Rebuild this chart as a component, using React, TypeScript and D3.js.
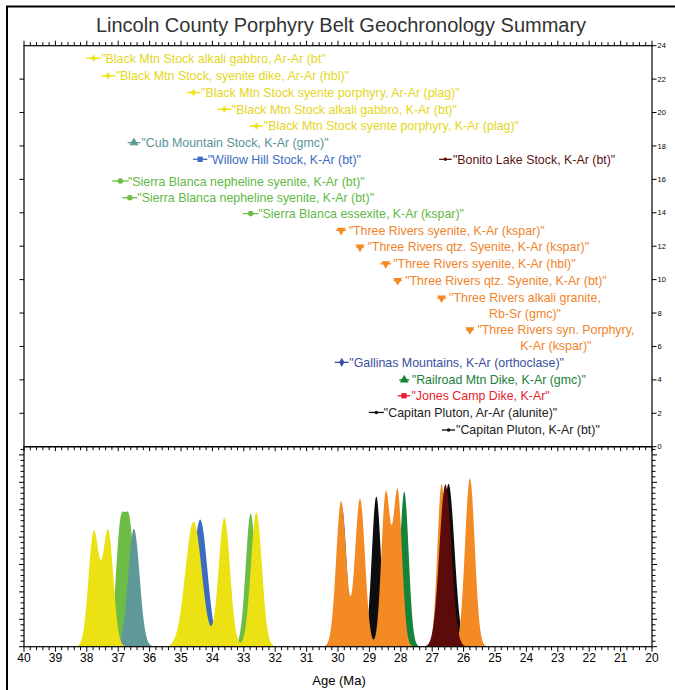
import React from "react";
import * as d3 from "d3";

const chartTitle = "Lincoln County Porphyry Belt Geochronology Summary";
const xAxisTitle = "Age (Ma)";

const groupNames = [
  "Black Mtn Stock",
  "Cub Mountain Stock",
  "Willow Hill Stock",
  "Bonito Lake Stock",
  "Sierra Blanca",
  "Three Rivers",
  "Gallinas Mountains",
  "Railroad Mtn Dike",
  "Jones Camp Dike",
  "Capitan Pluton",
];
const groupFill = ["#ece213", "#5f9898", "#3c6cc1", "#5c0b0b", "#6cbc45", "#f38a24", "#3551a1", "#138439", "#e91b2b", "#0d0d0d"];
const groupText = ["#e4d61c", "#5b9298", "#3b6bbf", "#5a1414", "#62b844", "#f0842c", "#3a4f9e", "#1a7f3a", "#e51e2c", "#222222"];
const groupMarker = ["cross", "triangleUp", "square", "dot", "circle", "triangleDown", "diamond", "triangleUp", "square", "dot"];

const sampleLabels = [
  "\"Black Mtn Stock alkali gabbro, Ar-Ar (bt\"",
  "\"Black Mtn Stock, syenite dike, Ar-Ar (hbl)\"",
  "\"Black Mtn Stock syente porphyry, Ar-Ar (plag)\"",
  "\"Black Mtn Stock alkali gabbro, K-Ar (bt)\"",
  "\"Black Mtn Stock syente porphyry, K-Ar (plag)\"",
  "\"Cub Mountain Stock, K-Ar (gmc)\"",
  "\"Willow Hill Stock, K-Ar (bt)\"",
  "\"Bonito Lake Stock, K-Ar (bt)\"",
  "\"Sierra Blanca nepheline syenite, K-Ar (bt)\"",
  "\"Sierra Blanca nepheline syenite, K-Ar (bt)\"",
  "\"Sierra Blanca essexite, K-Ar (kspar)\"",
  "\"Three Rivers syenite, K-Ar (kspar)\"",
  "\"Three Rivers qtz. Syenite, K-Ar (kspar)\"",
  "\"Three Rivers syenite, K-Ar (hbl)\"",
  "\"Three Rivers qtz. Syenite, K-Ar (bt)\"",
  "\"Three Rivers alkali granite,\nRb-Sr (gmc)\"",
  "\"Three Rivers syn. Porphyry,\nK-Ar (kspar)\"",
  "\"Gallinas Mountains, K-Ar (orthoclase)\"",
  "\"Railroad Mtn Dike, K-Ar (gmc)\"",
  "\"Jones Camp Dike, K-Ar\"",
  "\"Capitan Pluton, Ar-Ar (alunite)\"",
  "\"Capitan Pluton, K-Ar (bt)\"",
];
const sampleGroups = [0, 0, 0, 0, 0, 1, 2, 3, 4, 4, 4, 5, 5, 5, 5, 5, 5, 6, 7, 8, 9, 9];
const sampleAges = [37.78, 37.32, 34.6, 33.62, 32.6, 36.5, 34.39, 26.58, 36.93, 36.63, 32.78, 29.9, 29.3, 28.48, 28.1, 26.7, 25.8, 29.88, 27.89, 27.9, 28.78, 26.48];
const sampleErrors = [0.24, 0.23, 0.22, 0.23, 0.22, 0.2, 0.23, 0.2, 0.26, 0.24, 0.25, 0.16, 0.13, 0.17, 0.13, 0.15, 0.13, 0.22, 0.16, 0.2, 0.24, 0.21];
const sampleRows = [23.25, 22.2, 21.2, 20.2, 19.2, 18.2, 17.2, 17.2, 15.9, 14.9, 13.95, 12.95, 11.95, 10.95, 9.95, 8.9, 7.0, 5.05, 4.0, 3.05, 2.05, 1.0];
const sampleSigmas = [0.165, 0.165, 0.26, 0.18, 0.175, 0.18, 0.23, 0.19, 0.145, 0.145, 0.16, 0.16, 0.16, 0.14, 0.14, 0.135, 0.155, 0.155, 0.14, 0.12, 0.145, 0.19];
const samplePeaks = [0.208, 0.21, 0.228, 0.235, 0.245, 0.215, 0.232, 0.296, 0.21, 0.21, 0.243, 0.265, 0.27, 0.277, 0.281, 0.297, 0.307, 0.255, 0.283, 0.2, 0.274, 0.297];

const xTickLabels = [40, 39, 38, 37, 36, 35, 34, 33, 32, 31, 30, 29, 28, 27, 26, 25, 24, 23, 22, 21, 20];
const rowTickLabels = [0, 2, 4, 6, 8, 10, 12, 14, 16, 18, 20, 22, 24];

const LABEL_FONT = "12.4px 'Liberation Sans', Arial, sans-serif";

function measure(text: string): number {
  const c = document.createElement("canvas").getContext("2d");
  if (!c) return text.length * 6;
  c.font = LABEL_FONT;
  return c.measureText(text).width;
}

function markerPath(kind: string): { d: string; rot: number } {
  const s = d3.symbol();
  switch (kind) {
    case "cross": return { d: s.type(d3.symbolCross).size(20)() as string, rot: 0 };
    case "diamond": return { d: s.type(d3.symbolDiamond).size(24)() as string, rot: 0 };
    case "triangleUp": return { d: s.type(d3.symbolTriangle).size(34)() as string, rot: 0 };
    case "triangleDown": return { d: s.type(d3.symbolTriangle).size(34)() as string, rot: 180 };
    case "square": return { d: s.type(d3.symbolSquare).size(28)() as string, rot: 0 };
    case "circle": return { d: s.type(d3.symbolCircle).size(24)() as string, rot: 0 };
    default: return { d: s.type(d3.symbolCircle).size(9)() as string, rot: 0 };
  }
}

export default function App() {
  const W = 675, H = 690;
  const left = 24, right = 652;
  const topY = 45.7, midY = 446.7, botY = 646.7;
  const x = d3.scaleLinear().domain([40, 20]).range([left, right]);
  const yTop = d3.scaleLinear().domain([0, 24]).range([midY, topY]);
  const yBot = d3.scaleLinear().domain([0, 0.365]).range([botY, midY]);

  const grid = d3.range(0, 4001).map((i) => 40 - i * 0.005);
  const area = d3
    .area<[number, number]>()
    .x((d) => x(d[0]))
    .y0(yBot(0))
    .y1((d) => yBot(Math.min(d[1], 0.365)));

  const groupOrder = d3.range(groupNames.length).reverse();
  const curves = groupOrder.map((g) => {
    const members = d3.range(sampleAges.length).filter((i) => sampleGroups[i] === g);
    const pts: [number, number][] = grid.map((a) => {
      let v = 0;
      for (const i of members) {
        const z = (a - sampleAges[i]) / sampleSigmas[i];
        v += samplePeaks[i] * Math.exp(-0.5 * z * z);
      }
      return [a, v];
    });
    return { g, d: area(pts) as string };
  });

  const minorX = d3.range(0, 101).map((i) => 40 - i * 0.2);
  const minorYBot = d3.range(0, 37).map((i) => i * 0.01);

  return (
    <svg width={W} height={H} style={{ position: "absolute", left: 0, top: 0, background: "#fff" }}>
      <rect x={0} y={0} width={W} height={H} fill="#fff" />
      <rect x={7} y={6.5} width={720} height={720} fill="none" stroke="#000" strokeWidth={2} />
      <text x={341} y={32} textAnchor="middle" fontFamily="'Liberation Sans', Arial, sans-serif" fontSize={20} fill="#333">
        {chartTitle}
      </text>

      <clipPath id="botclip">
        <rect x={left} y={midY} width={right - left} height={botY - midY} />
      </clipPath>
      <g clipPath="url(#botclip)">
        {curves.map((c) => (
          <path key={c.g} d={c.d} fill={groupFill[c.g]} stroke="none" />
        ))}
      </g>

      {sampleAges.map((age, i) => {
        const g = sampleGroups[i];
        const cx = x(age);
        const cy = yTop(sampleRows[i]);
        const m = markerPath(groupMarker[g]);
        const lines = sampleLabels[i].split("\n");
        const tx = cx + 7.5;
        let textEl;
        if (lines.length === 1) {
          textEl = (
            <text x={tx} y={cy} dy="0.36em" fill={groupText[g]} style={{ font: LABEL_FONT }}>
              {lines[0]}
            </text>
          );
        } else {
          const w0 = measure(lines[0]);
          const center = tx + w0 / 2;
          textEl = (
            <g fill={groupText[g]} style={{ font: LABEL_FONT }}>
              {lines.map((ln, k) => (
                <text key={k} x={center} y={cy + k * 15.7} dy="0.36em" textAnchor="middle">
                  {ln}
                </text>
              ))}
            </g>
          );
        }
        return (
          <g key={i}>
            <line x1={x(age + sampleErrors[i])} x2={x(age - sampleErrors[i])} y1={cy} y2={cy} stroke={groupFill[g]} strokeWidth={1.3} />
            <path d={m.d} transform={`translate(${cx},${cy}) rotate(${m.rot})`} fill={groupFill[g]} />
            {textEl}
          </g>
        );
      })}

      <rect x={left} y={topY} width={right - left} height={midY - topY} fill="none" stroke="#000" strokeWidth={1.2} />
      <rect x={left} y={midY} width={right - left} height={botY - midY} fill="none" stroke="#000" strokeWidth={1.2} />

      {minorX.map((v, i) => {
        const major = i % 5 === 0;
        const xx = x(v);
        return (
          <g key={i} stroke="#000" strokeWidth={1}>
            <line x1={xx} x2={xx} y1={topY} y2={topY - (major ? 5 : 3.5)} />
            <line x1={xx} x2={xx} y1={midY} y2={midY + (major ? 4.5 : 3.5)} />
            <line x1={xx} x2={xx} y1={botY} y2={botY + (major ? 5 : 3.5)} />
          </g>
        );
      })}
      {xTickLabels.map((v) => (
        <text key={v} x={x(v)} y={662} textAnchor="middle" fontFamily="'Liberation Sans', Arial, sans-serif" fontSize={12} fill="#000">
          {v}
        </text>
      ))}
      <text x={339} y={685} textAnchor="middle" fontFamily="'Liberation Sans', Arial, sans-serif" fontSize={13} fill="#000">
        {xAxisTitle}
      </text>

      {rowTickLabels.map((v) => (
        <g key={v}>
          {v > 0 && v < 24 && <line x1={left} x2={left - 4.5} y1={yTop(v)} y2={yTop(v)} stroke="#000" strokeWidth={1} />}
          <line x1={right} x2={right + 4.5} y1={yTop(v)} y2={yTop(v)} stroke="#000" strokeWidth={1} />
          <text x={657.5} y={yTop(v)} dy="0.35em" fontFamily="'Liberation Sans', Arial, sans-serif" fontSize={7.5} fill="#000">
            {v}
          </text>
        </g>
      ))}

      {minorYBot.map((v, i) => {
        const major = i % 5 === 0;
        const yy = yBot(v);
        return (
          <g key={i} stroke="#000" strokeWidth={1}>
            <line x1={left} x2={left - (major ? 5 : 3.5)} y1={yy} y2={yy} />
            <line x1={right} x2={right + (major ? 5 : 3.5)} y1={yy} y2={yy} />
          </g>
        );
      })}
    </svg>
  );
}
